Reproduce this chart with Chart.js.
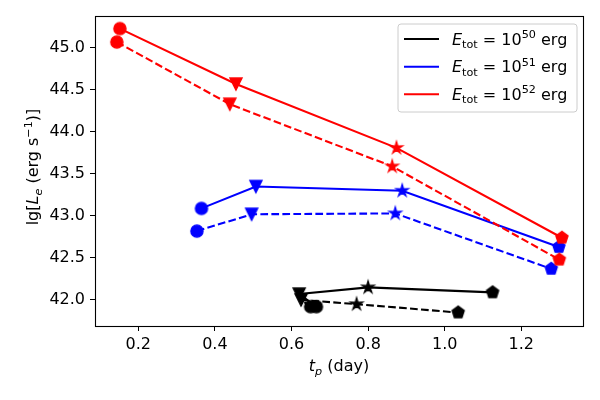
<!DOCTYPE html>
<html>
<head>
<meta charset="utf-8">
<script src="https://cdn.jsdelivr.net/npm/chart.js@4.4.1/dist/chart.umd.min.js"></script>
<style>
  html, body { margin: 0; padding: 0; background: #fff; }
</style>
</head>
<body>
<canvas id="chart" width="600" height="400"></canvas>
<script>
// values: t_p in days, lg L_e in erg/s
// marker order in every series: circle, triangle-down, star, pentagon
const blackSolidT = [0.665, 0.620, 0.800, 1.125];
const blackSolidL = [41.92, 42.07, 42.15, 42.09];
const blackDashT  = [0.650, 0.625, 0.770, 1.035];
const blackDashL  = [41.92, 42.00, 41.95, 41.85];

const blueSolidT = [0.365, 0.507, 0.889, 1.298];
const blueSolidL = [43.09, 43.35, 43.30, 42.63];
const blueDashT  = [0.353, 0.496, 0.871, 1.278];
const blueDashL  = [42.82, 43.02, 43.03, 42.37];

const redSolidT = [0.152, 0.455, 0.874, 1.306];
const redSolidL = [45.23, 44.57, 43.81, 42.74];
const redDashT  = [0.144, 0.439, 0.863, 1.299];
const redDashL  = [45.07, 44.33, 43.59, 42.48];

const legendExponents = ['50', '51', '52'];
const legendColors = ['#000000', '#0000ff', '#ff0000'];

const xTicks = [0.2, 0.4, 0.6, 0.8, 1.0, 1.2];
const yTicks = [42.0, 42.5, 43.0, 43.5, 44.0, 44.5, 45.0];

const FONT = "'DejaVu Sans', sans-serif";

function makeMarker(shape, color) {
  const S = 20;
  const c = document.createElement('canvas');
  c.width = S; c.height = S;
  const g = c.getContext('2d');
  const R = 6.1, cx = S / 2, cy = S / 2;
  g.fillStyle = color;
  g.strokeStyle = color;
  g.lineWidth = 1.3;
  g.lineJoin = 'miter';
  g.beginPath();
  if (shape === 'circle') {
    g.arc(cx, cy, R, 0, 2 * Math.PI);
  } else if (shape === 'tri') {
    g.moveTo(cx, cy + R);
    g.lineTo(cx - R, cy - R);
    g.lineTo(cx + R, cy - R);
    g.closePath();
  } else if (shape === 'star') {
    for (let i = 0; i < 10; i++) {
      const r = i % 2 ? R * 0.382 : R * 1.05;
      const a = -Math.PI / 2 + i * Math.PI / 5;
      const px = cx + r * Math.cos(a), py = cy + r * Math.sin(a);
      if (i === 0) g.moveTo(px, py); else g.lineTo(px, py);
    }
    g.closePath();
  } else {
    for (let i = 0; i < 5; i++) {
      const a = -Math.PI / 2 + i * 2 * Math.PI / 5;
      const px = cx + R * 1.05 * Math.cos(a), py = cy + R * 1.05 * Math.sin(a);
      if (i === 0) g.moveTo(px, py); else g.lineTo(px, py);
    }
    g.closePath();
  }
  g.fill();
  g.stroke();
  return c;
}

function markers(color) {
  return ['circle', 'tri', 'star', 'pent'].map(s => makeMarker(s, color));
}

function series(ts, ls, color, dashed) {
  return {
    data: ts.map((t, i) => ({ x: t, y: ls[i] })),
    showLine: true,
    borderColor: color,
    backgroundColor: color,
    borderWidth: 2.1,
    borderDash: dashed ? [7.7, 3.3] : [],
    pointStyle: markers(color),
    pointRadius: 6,
    tension: 0,
  };
}

// rich text: parts drawn left to right, small parts are shifted for sub/superscript
function partFont(p) {
  const size = (p.sub || p.sup) ? 11.2 : 16;
  return (p.it ? 'italic ' : '') + size + 'px ' + FONT;
}
function richWidth(ctx, parts) {
  let w = 0;
  parts.forEach(p => { ctx.font = partFont(p); w += ctx.measureText(p.t).width; });
  return w;
}
function drawRich(ctx, parts, x, y) {
  ctx.textBaseline = 'alphabetic';
  ctx.textAlign = 'left';
  parts.forEach(p => {
    ctx.font = partFont(p);
    const dy = p.sub ? 3.5 : (p.sup ? -6.5 : 0);
    ctx.fillText(p.t, x, y + dy);
    x += ctx.measureText(p.t).width;
  });
}

const decorPlugin = {
  id: 'decor',
  afterDraw(chart) {
    const ctx = chart.ctx;
    const a = chart.chartArea;
    ctx.save();

    // axes frame
    ctx.strokeStyle = '#000';
    ctx.lineWidth = 1.1;
    ctx.strokeRect(Math.round(a.left) + 0.5, Math.round(a.top) + 0.5,
                   Math.round(a.right - a.left), Math.round(a.bottom - a.top));

    ctx.fillStyle = '#000';
    // x title
    const xt = [{ t: 't', it: true }, { t: 'p', it: true, sub: true }, { t: ' (day)' }];
    const xw = richWidth(ctx, xt);
    drawRich(ctx, xt, (a.left + a.right) / 2 - xw / 2, 371);

    // y title
    const yt = [{ t: 'lg[' }, { t: 'L', it: true }, { t: 'e', it: true, sub: true },
                { t: ' (erg s' }, { t: '\u22121', sup: true }, { t: ')]' }];
    const yw = richWidth(ctx, yt);
    ctx.save();
    ctx.translate(38, 167);
    ctx.rotate(-Math.PI / 2);
    drawRich(ctx, yt, -yw / 2, 0);
    ctx.restore();

    // legend
    const bx = 398, by = 24, bw = 179, bh = 88, r = 3;
    ctx.beginPath();
    ctx.moveTo(bx + r, by);
    ctx.arcTo(bx + bw, by, bx + bw, by + bh, r);
    ctx.arcTo(bx + bw, by + bh, bx, by + bh, r);
    ctx.arcTo(bx, by + bh, bx, by, r);
    ctx.arcTo(bx, by, bx + bw, by, r);
    ctx.closePath();
    ctx.fillStyle = 'rgba(255,255,255,0.8)';
    ctx.fill();
    ctx.strokeStyle = '#cccccc';
    ctx.lineWidth = 1;
    ctx.stroke();

    const rowY = [39, 66.7, 94.3];
    legendExponents.forEach((ex, i) => {
      ctx.strokeStyle = legendColors[i];
      ctx.lineWidth = 2.1;
      ctx.setLineDash([]);
      ctx.beginPath();
      ctx.moveTo(404, rowY[i]);
      ctx.lineTo(439, rowY[i]);
      ctx.stroke();
      ctx.fillStyle = '#000';
      drawRich(ctx, [{ t: 'E', it: true }, { t: 'tot', sub: true }, { t: ' = 10' },
                     { t: ex, sup: true }, { t: ' erg' }], 452, rowY[i] + 5.5);
    });
    ctx.restore();
  }
};

new Chart(document.getElementById('chart'), {
  type: 'scatter',
  data: {
    datasets: [
      series(redDashT, redDashL, '#ff0000', true),
      series(redSolidT, redSolidL, '#ff0000', false),
      series(blueDashT, blueDashL, '#0000ff', true),
      series(blueSolidT, blueSolidL, '#0000ff', false),
      series(blackDashT, blackDashL, '#000000', true),
      series(blackSolidT, blackSolidL, '#000000', false),
    ],
  },
  options: {
    responsive: false,
    animation: false,
    events: [],
    layout: { padding: { left: 0, top: 16, right: 17, bottom: 0 } },
    plugins: { legend: { display: false }, tooltip: { enabled: false } },
    scales: {
      x: {
        type: 'linear',
        min: 0.087,
        max: 1.361,
        afterBuildTicks: s => { s.ticks = xTicks.map(v => ({ value: v })); },
        afterFit: s => { s.height = 74; },
        grid: { drawOnChartArea: false, drawTicks: true, tickLength: 5, color: '#000', lineWidth: 1 },
        border: { display: false },
        ticks: {
          color: '#000', padding: 4, maxRotation: 0,
          font: { family: FONT, size: 16 },
          callback: v => v.toFixed(1),
        },
      },
      y: {
        type: 'linear',
        min: 41.69,
        max: 45.38,
        afterBuildTicks: s => { s.ticks = yTicks.map(v => ({ value: v })); },
        afterFit: s => { s.width = 95; },
        grid: { drawOnChartArea: false, drawTicks: true, tickLength: 5, color: '#000', lineWidth: 1 },
        border: { display: false },
        ticks: {
          color: '#000', padding: 5,
          font: { family: FONT, size: 16 },
          callback: v => v.toFixed(1),
        },
      },
    },
  },
  plugins: [decorPlugin],
});
</script>
</body>
</html>
